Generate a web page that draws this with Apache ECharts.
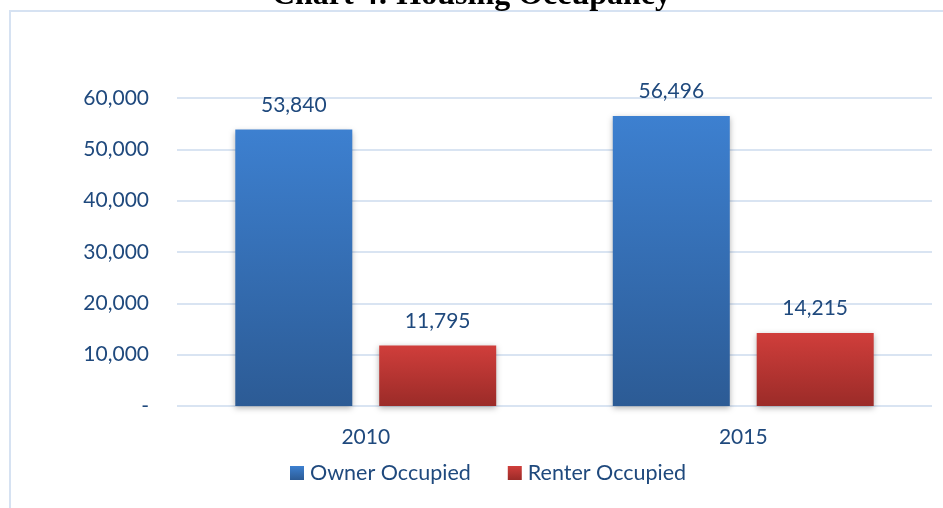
<!DOCTYPE html>
<html>
<head>
<meta charset="utf-8">
<script src="https://cdn.jsdelivr.net/npm/echarts@6/dist/echarts.min.js"></script>
<style>
  html, body { margin: 0; padding: 0; background: #fff; }
  #chart { width: 943px; height: 508px; }
</style>
</head>
<body>
<div id="chart"></div>
<script>
const years = ['2010', '2015'];
const ownerOccupied = [53840, 56496];
const renterOccupied = [11795, 14215];
const seriesNames = ['Owner Occupied', 'Renter Occupied'];

const textColor = '#1f497d';
const fontFamily = 'Lato, "Open Sans", sans-serif';

function fmt(v) {
  return v === 0 ? '-' : v.toLocaleString('en-US');
}

const chart = echarts.init(document.getElementById('chart'));

const option = {
  animation: false,
  textStyle: { fontFamily: fontFamily },
  graphic: [
    {
      type: 'rect',
      shape: { x: 10, y: 11, width: 960, height: 520 },
      style: { fill: 'none', stroke: '#d6e2f2', lineWidth: 2 }
    },
    {
      type: 'text',
      left: 'center',
      top: -20,
      style: {
        text: 'Chart 4: Housing Occupancy',
        font: 'bold 32px "Liberation Serif", "DejaVu Serif", serif',
        fill: '#000'
      }
    }
  ],
  legend: {
    bottom: 19,
    left: 285,
    itemWidth: 14,
    itemHeight: 14,
    itemGap: 37,
    icon: 'rect',
    textStyle: { color: textColor, fontSize: 21.5, fontFamily: fontFamily, padding: [0, 0, 0, 1] },
    data: seriesNames
  },
  grid: { left: 177, right: 11, top: 98, bottom: 102 },
  xAxis: {
    type: 'category',
    data: years,
    axisLine: { show: false },
    axisTick: { show: false },
    axisLabel: { color: textColor, fontSize: 21, margin: 21 }
  },
  yAxis: {
    type: 'value',
    min: 0,
    max: 60000,
    interval: 10000,
    axisLabel: {
      color: textColor,
      fontSize: 21,
      margin: 28,
      formatter: fmt
    },
    splitLine: { lineStyle: { color: '#d9e4f2', width: 2 } }
  },
  series: [
    {
      name: seriesNames[0],
      type: 'bar',
      data: ownerOccupied,
      barWidth: 117,
      barGap: '23%',
      itemStyle: {
        color: new echarts.graphic.LinearGradient(0, 0, 0, 1, [
          { offset: 0, color: '#3d80d0' },
          { offset: 1, color: '#2c5b95' }
        ]),
        shadowColor: 'rgba(0,0,0,0.3)',
        shadowBlur: 6,
        shadowOffsetY: 2
      },
      label: {
        show: true,
        position: 'top',
        distance: 14,
        color: textColor,
        fontSize: 21,
        formatter: p => fmt(p.value)
      }
    },
    {
      name: seriesNames[1],
      type: 'bar',
      data: renterOccupied,
      barWidth: 117,
      itemStyle: {
        color: new echarts.graphic.LinearGradient(0, 0, 0, 1, [
          { offset: 0, color: '#d03e3b' },
          { offset: 1, color: '#9b2b28' }
        ]),
        shadowColor: 'rgba(0,0,0,0.3)',
        shadowBlur: 6,
        shadowOffsetY: 2
      },
      label: {
        show: true,
        position: 'top',
        distance: 14,
        color: textColor,
        fontSize: 21,
        formatter: p => fmt(p.value)
      }
    }
  ]
};

chart.setOption(option);
</script>
</body>
</html>
